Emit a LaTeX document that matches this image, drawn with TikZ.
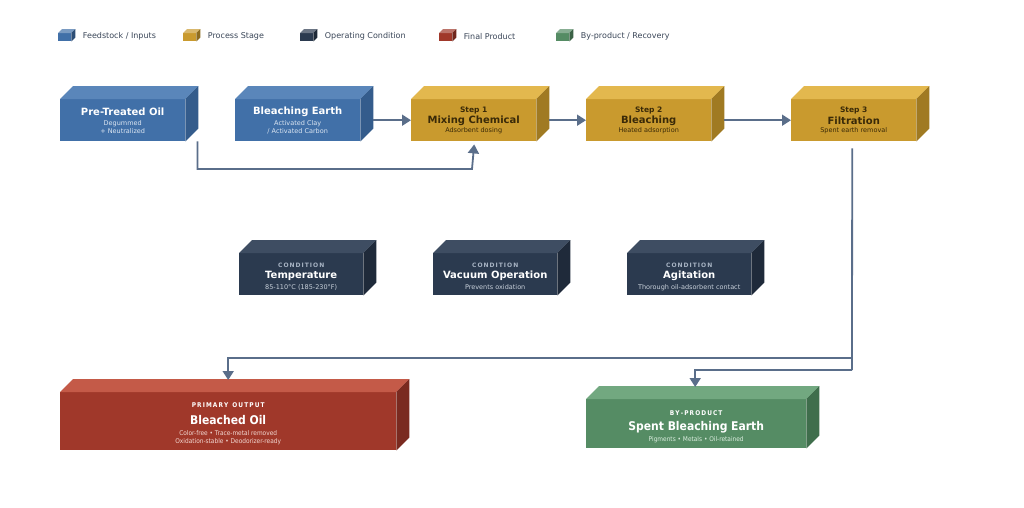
\documentclass[tikz,border=0pt]{standalone}
\usepackage{fontspec}
\setmainfont{DejaVu Sans}
\newfontfamily\cond{DejaVu Sans Condensed}
\usetikzlibrary{arrows.meta,calc}
\definecolor{bF}{HTML}{4170A8}\definecolor{bT}{HTML}{5A86BA}\definecolor{bS}{HTML}{345C8C}
\definecolor{gF}{HTML}{C99A2E}\definecolor{gT}{HTML}{E3B84E}\definecolor{gS}{HTML}{A07A22}
\definecolor{dF}{HTML}{2B3A4F}\definecolor{dT}{HTML}{3E4D62}\definecolor{dS}{HTML}{1F2A3A}
\definecolor{rF}{HTML}{A0382A}\definecolor{rT}{HTML}{C45A48}\definecolor{rS}{HTML}{7A2A20}
\definecolor{nF}{HTML}{558C64}\definecolor{nT}{HTML}{72A880}\definecolor{nS}{HTML}{3F6E4C}
\definecolor{arr}{HTML}{5A6E8A}\definecolor{lg}{HTML}{3A4658}
\definecolor{subB}{HTML}{DCE6F2}\definecolor{subD}{HTML}{C8D0DA}\definecolor{capD}{HTML}{A8B4C4}
\definecolor{txG}{HTML}{3A2A08}\definecolor{subR}{HTML}{F2D8D2}\definecolor{subN}{HTML}{DCEEE0}
\newcommand\mytitle{\bfseries\fontsize{10}{12}\selectfont}
\newcommand\mysub{\fontsize{6.5}{8}\selectfont}
\tikzset{
 face/.style={anchor=north west,inner sep=0pt,align=center,text=white},
 flow/.style={draw=arr,line width=1.8pt,-{Triangle[length=9pt,width=11pt]}},
 line/.style={draw=arr,line width=1.8pt},
 lbl/.style={align=center,inner sep=0pt},
}
\newcommand\cube[9]{%
 \node[face,fill=#7,minimum width=#4pt,minimum height=#5pt] (#1) at (#2,#3) {};
 \fill[#8] (#1.north west) -- ++(#6pt,#6pt) -- ($(#1.north east)+(#6pt,#6pt)$) -- (#1.north east) -- cycle;
 \fill[#9] (#1.north east) -- ++(#6pt,#6pt) -- ($(#1.south east)+(#6pt,#6pt)$) -- (#1.south east) -- cycle;}
\newcommand\lgd[4]{%
 \node[face,fill=#2,minimum width=13pt,minimum height=8pt] (#1) at (#3,33) {};
 \fill[#2!70!white] (#1.north west) -- ++(4pt,4pt) -- ($(#1.north east)+(4pt,4pt)$) -- (#1.north east) -- cycle;
 \fill[#2!70!black] (#1.north east) -- ++(4pt,4pt) -- ($(#1.south east)+(4pt,4pt)$) -- (#1.south east) -- cycle;
 \node[anchor=west,text=lg,font=\fontsize{8}{9}\selectfont] (#1t) at ($(#1.east)+(8pt,1pt)$) {#4};}
\begin{document}
\begin{tikzpicture}[x=1pt,y=-1pt]
\fill[white] (0,0) rectangle (1024,507);
\useasboundingbox (0,0) rectangle (1024,507);
\lgd{l1}{bF}{58}{Feedstock / Inputs}
\lgd{l2}{gF}{183}{Process Stage}
\lgd{l3}{dF}{300}{Operating Condition}
\lgd{l4}{rF}{439}{Final Product}
\lgd{l5}{nF}{556}{By-product / Recovery}
\cube{pto}{60}{99}{125}{42}{13}{bF}{bT}{bS}
\cube{be}{235}{99}{125}{42}{13}{bF}{bT}{bS}
\cube{s1}{411}{99}{125}{42}{13}{gF}{gT}{gS}
\cube{s2}{586}{99}{125}{42}{13}{gF}{gT}{gS}
\cube{s3}{791}{99}{125}{42}{13}{gF}{gT}{gS}
\node[lbl,text=white,font=\mytitle] (t1) at ($(pto.center)+(0,-8)$) {Pre-Treated Oil};
\node[lbl,text=subB,font=\mysub] (u1) at ($(pto.center)+(0,7)$) {Degummed\\+ Neutralized};
\node[lbl,text=white,font=\mytitle] (t2) at ($(be.center)+(0,-8)$) {Bleaching Earth};
\node[lbl,text=subB,font=\mysub] (u2) at ($(be.center)+(0,7)$) {Activated Clay\\/ Activated Carbon};
\foreach \n/\a/\b/\c in {s1/Step 1/Mixing Chemical/Adsorbent dosing, s2/Step 2/Bleaching/Heated adsorption, s3/Step 3/Filtration/Spent earth removal}{
 \node[lbl,text=txG,font=\bfseries\fontsize{7.5}{9}\selectfont] (\n a) at ($(\n.center)+(0,-10)$) {\a};
 \node[lbl,text=txG,font=\mytitle] (\n b) at ($(\n.center)+(0,1)$) {\b};
 \node[lbl,text=txG,font=\mysub] (\n c) at ($(\n.center)+(0,11)$) {\c};}
\cube{c1}{239}{253}{124}{42}{13}{dF}{dT}{dS}
\cube{c2}{433}{253}{124}{42}{13}{dF}{dT}{dS}
\cube{c3}{627}{253}{124}{42}{13}{dF}{dT}{dS}
\foreach \n/\b/\c in {c1/Temperature/85-110°C (185-230°F), c2/Vacuum Operation/Prevents oxidation, c3/Agitation/Thorough oil-adsorbent contact}{
 \node[lbl,text=capD,font=\bfseries\fontsize{6}{7}\selectfont] (\n a) at ($(\n.center)+(0,-9)$) {C\,O\,N\,D\,I\,T\,I\,O\,N};
 \node[lbl,text=white,font=\mytitle] (\n b) at ($(\n.center)+(0,2)$) {\b};
 \node[lbl,text=subD,font=\mysub] (\n c) at ($(\n.center)+(0,13)$) {\c};}
\cube{bo}{60}{392}{336}{58}{13}{rF}{rT}{rS}
\cube{sbe}{586}{399}{220}{49}{13}{nF}{nT}{nS}
\node[lbl,text=white,font=\cond\bfseries\fontsize{6.5}{8}\selectfont] (boa) at ($(bo.center)+(0,-16)$) {P\,R\,I\,M\,A\,R\,Y\ \ O\,U\,T\,P\,U\,T};
\node[lbl,text=white,font=\cond\bfseries\fontsize{12}{14}\selectfont] (bob) at ($(bo.center)+(0,-1)$) {Bleached Oil};
\node[lbl,text=subR,font=\cond\mysub] (boc) at ($(bo.center)+(0,16)$) {Color-free • Trace-metal removed\\Oxidation-stable • Deodorizer-ready};
\node[lbl,text=white,font=\cond\bfseries\fontsize{6.5}{8}\selectfont] (sba) at ($(sbe.center)+(0,-11)$) {B\,Y\,-\,P\,R\,O\,D\,U\,C\,T};
\node[lbl,text=white,font=\cond\bfseries\fontsize{12}{14}\selectfont] (sbb) at ($(sbe.center)+(0,4)$) {Spent Bleaching Earth};
\node[lbl,text=subN,font=\cond\mysub] (sbc) at ($(sbe.center)+(0,16)$) {Pigments • Metals • Oil-retained};
\draw[flow] ($(be.east)+(13,0)$) -- (s1.west);
\draw[flow] ($(s1.east)+(13,0)$) -- (s2.west);
\draw[flow] ($(s2.east)+(13,0)$) -- (s3.west);
\coordinate (p1) at (472,169);
\draw[flow] ($(pto.south east)+(12,0)$) |- (p1) -- ($(s1.south)+(0.5,3)$);
\coordinate (j) at (852,358);
\coordinate (k) at (852,370);
\draw[line] ($(s3.south)+(-1.5,7)$) -- (k);
\draw[flow] (j) -| ($(bo.north)+(0,-12)$);
\draw[flow] (k) -| ($(sbe.north)+(-1,-12)$);
\end{tikzpicture}
\end{document}
